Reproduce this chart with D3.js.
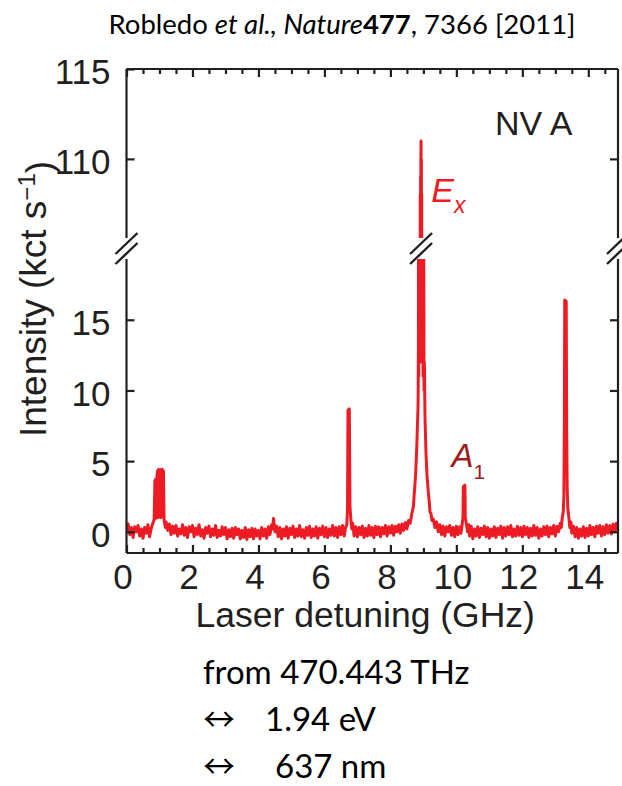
<!DOCTYPE html>
<html>
<head>
<meta charset="utf-8">
<script src="https://cdn.jsdelivr.net/npm/d3@7"></script>
<style>
  body { margin: 0; background: #fff; }
  svg { display: block; }
  .axis text { font-family: "Liberation Sans", Arial, sans-serif; font-size: 35px; fill: #231f20; }
  .axis line { stroke: #231f20; stroke-width: 2.2; }
  .axis path.domain { display: none; }
  .frame { stroke: #231f20; stroke-width: 2.2; fill: none; }
  .note { font-family: Lato, "Open Sans", sans-serif; fill: #000; }
</style>
</head>
<body>
<div id="chart"></div>
<script>
// Excitation spectrum of NV A: [detuning GHz, intensity kct/s]
const spec0to4 = [
    [0.0, 0.1], [0.05, 0.55], [0.1, -0.2], [0.15, 0.3], [0.2, -0.4], [0.25, 0.35], [0.3, 0.0],
    [0.35, 0.45], [0.4, -0.3], [0.45, 0.2], [0.5, -0.45], [0.55, 0.3], [0.6, -0.1], [0.65, 0.5],
    [0.7, -0.35], [0.75, 0.25], [0.8, 0.6],
    [0.84, 0.9], [0.86, 3.6], [0.87, 0.9], [0.88, 3.7], [0.89, 1.0], [0.90, 3.6], [0.91, 3.8],
    [0.92, 1.2], [0.93, 4.1], [0.94, 4.3], [0.95, 1.0], [0.96, 4.2], [0.97, 4.4], [0.98, 1.1],
    [0.99, 4.0], [1.00, 4.3], [1.01, 1.2], [1.02, 4.2], [1.03, 4.4], [1.04, 1.0], [1.05, 4.1],
    [1.06, 4.3], [1.07, 1.1], [1.08, 4.2], [1.09, 4.4], [1.10, 1.3], [1.11, 4.2], [1.12, 4.3],
    [1.14, 0.8],
    [1.18, 0.3], [1.2, 0.7], [1.25, 0.1], [1.3, 0.55], [1.35, -0.2], [1.4, 0.4], [1.45, -0.1],
    [1.5, 0.45], [1.55, -0.3], [1.6, 0.2], [1.65, -0.15], [1.7, 0.5], [1.75, -0.25], [1.8, 0.3],
    [1.85, -0.4], [1.9, 0.35], [1.95, 0.0], [2.0, 0.45], [2.05, -0.35], [2.1, 0.25], [2.15, -0.2],
    [2.2, 0.5], [2.25, -0.3], [2.3, 0.15], [2.35, -0.45], [2.4, 0.3], [2.45, -0.1], [2.5, 0.4],
    [2.55, -0.35], [2.6, 0.2], [2.65, -0.25], [2.7, 0.45], [2.75, -0.4], [2.8, 0.1], [2.85, -0.3],
    [2.9, 0.35], [2.95, -0.2], [3.0, 0.3], [3.05, -0.5], [3.1, 0.15], [3.15, -0.35], [3.2, 0.25],
    [3.25, -0.45], [3.3, 0.3], [3.35, -0.2], [3.4, 0.2], [3.45, -0.5], [3.5, 0.1], [3.55, -0.4],
    [3.6, 0.3], [3.65, -0.55], [3.7, 0.15], [3.75, -0.35], [3.8, 0.25], [3.85, -0.5], [3.9, 0.2],
    [3.95, -0.3]
];
const spec4to8 = [
    [4.0, 0.1], [4.05, -0.5], [4.1, 0.3], [4.15, -0.3], [4.2, 0.2], [4.25, -0.45], [4.3, 0.35],
    [4.35, -0.2], [4.4, 0.5], [4.43, 0.2], [4.46, 0.95], [4.5, 0.0], [4.55, 0.4], [4.6, -0.35],
    [4.65, 0.3], [4.7, -0.5], [4.75, 0.2], [4.8, -0.3], [4.85, 0.35], [4.9, -0.45], [4.95, 0.25],
    [5.0, -0.2], [5.05, 0.4], [5.1, -0.4], [5.15, 0.2], [5.2, -0.3], [5.25, 0.45], [5.3, -0.35],
    [5.35, 0.15], [5.4, -0.45], [5.45, 0.3], [5.5, -0.25], [5.55, 0.4], [5.6, -0.4], [5.65, 0.2],
    [5.7, -0.3], [5.75, 0.35], [5.8, -0.45], [5.85, 0.25], [5.9, -0.2], [5.95, 0.4], [6.0, -0.35],
    [6.05, 0.3], [6.1, -0.4], [6.15, 0.2], [6.2, -0.25], [6.25, 0.45], [6.3, -0.3], [6.35, 0.3],
    [6.4, -0.4], [6.45, 0.35], [6.5, -0.2], [6.55, 0.45], [6.6, -0.3], [6.64, 0.3],
    [6.68, 0.5], [6.70, 1.6], [6.715, 8.6], [6.755, 8.7], [6.775, 1.8], [6.8, 0.9], [6.83, 0.2],
    [6.86, 0.6], [6.9, -0.3], [6.95, 0.35], [7.0, -0.35], [7.05, 0.3], [7.1, -0.2], [7.15, 0.4],
    [7.2, -0.4], [7.25, 0.25], [7.3, -0.3], [7.35, 0.45], [7.4, -0.25], [7.45, 0.3], [7.5, -0.4],
    [7.55, 0.4], [7.6, -0.2], [7.65, 0.35], [7.7, -0.35], [7.75, 0.3], [7.8, -0.15], [7.85, 0.45],
    [7.9, -0.3], [7.95, 0.35]
];
const spec8to12 = [
    [8.0, -0.1], [8.05, 0.45], [8.1, -0.25], [8.15, 0.4], [8.2, 0.0], [8.25, 0.5], [8.3, -0.1],
    [8.35, 0.55], [8.4, 0.1], [8.45, 0.65], [8.5, 0.2], [8.55, 0.8], [8.6, 0.6], [8.65, 1.3],
    [8.7, 1.8], [8.72, 2.6], [8.74, 3.2], [8.77, 4.3], [8.80, 6.0], [8.82, 7.5],
    [8.84, 9], [8.85, 13], [8.855, 24], [8.86, 11], [8.865, 30], [8.87, 12], [8.875, 38],
    [8.88, 13], [8.885, 50], [8.89, 12], [8.895, 70], [8.90, 13], [8.905, 108], [8.91, 14],
    [8.915, 109], [8.92, 13], [8.925, 110], [8.93, 111], [8.935, 15], [8.94, 110], [8.945, 13],
    [8.95, 108], [8.955, 14], [8.96, 75], [8.965, 12], [8.97, 55], [8.98, 12], [8.985, 40],
    [8.99, 11], [8.995, 30], [9.00, 11], [9.01, 22], [9.02, 10], [9.03, 12],
    [9.05, 8], [9.08, 5.5], [9.11, 4], [9.15, 2.8], [9.18, 2.1], [9.2, 1.4], [9.23, 1.3],
    [9.26, 0.8], [9.3, 0.9], [9.35, 0.3], [9.4, 0.7], [9.45, 0.0], [9.5, 0.5], [9.55, -0.2],
    [9.6, 0.4], [9.65, -0.3], [9.7, 0.35], [9.75, 0.0], [9.8, 0.45], [9.85, -0.25], [9.9, 0.3],
    [9.95, -0.35], [10.0, 0.4], [10.05, -0.2], [10.1, 0.35], [10.14, -0.1], [10.18, 0.6],
    [10.2, 1.0], [10.21, 3.2], [10.26, 3.3], [10.27, 1.0], [10.3, 0.6], [10.34, 0.0],
    [10.38, 0.5], [10.4, -0.3], [10.45, 0.4], [10.5, -0.5], [10.55, 0.2], [10.6, -0.3],
    [10.65, 0.35], [10.7, -0.4], [10.75, 0.25], [10.8, -0.2], [10.85, 0.4], [10.9, -0.35],
    [10.95, 0.3], [11.0, -0.45], [11.05, 0.2], [11.1, -0.3], [11.15, 0.35], [11.2, -0.4],
    [11.25, 0.25], [11.3, -0.2], [11.35, 0.4], [11.4, -0.45], [11.45, 0.3], [11.5, -0.3],
    [11.55, 0.35], [11.6, -0.2], [11.65, 0.45], [11.7, -0.35], [11.75, 0.2], [11.8, -0.3],
    [11.85, 0.4], [11.9, -0.25], [11.95, 0.3]
];
const spec12to15 = [
    [12.0, -0.35], [12.05, 0.4], [12.1, -0.2], [12.15, 0.3], [12.2, -0.4], [12.25, 0.25],
    [12.3, -0.3], [12.35, 0.45], [12.4, -0.25], [12.45, 0.3], [12.5, -0.45], [12.55, 0.2],
    [12.6, -0.3], [12.65, 0.35], [12.7, -0.2], [12.75, 0.4], [12.8, -0.35], [12.85, 0.3],
    [12.9, -0.15], [12.95, 0.45], [13.0, -0.3], [13.05, 0.4], [13.1, 0.0], [13.15, 0.6],
    [13.18, 0.3], [13.21, 1.0], [13.24, 1.4], [13.26, 2.6], [13.275, 8], [13.285, 16.4],
    [13.33, 16.3], [13.345, 7], [13.36, 3.0], [13.38, 1.6], [13.41, 1.0], [13.44, 0.3],
    [13.47, 0.7], [13.5, -0.1], [13.55, 0.4], [13.6, -0.35], [13.65, 0.3], [13.7, -0.45],
    [13.75, 0.2], [13.8, -0.3], [13.85, 0.35], [13.9, -0.4], [13.95, 0.25], [14.0, -0.3],
    [14.05, 0.45], [14.1, -0.2], [14.15, 0.3], [14.2, -0.35], [14.25, 0.4], [14.3, -0.1],
    [14.35, 0.45], [14.4, -0.3], [14.45, 0.35], [14.5, -0.2], [14.55, 0.5], [14.6, -0.1],
    [14.65, 0.45], [14.7, -0.15], [14.75, 0.55], [14.8, 0.0], [14.85, 0.6], [14.9, 0.1]
];

const xTicks = [0, 2, 4, 6, 8, 10, 12, 14];
const yTicksLow = [0, 5, 10, 15];
const yTicksHigh = [110, 115];
const exPeakGHz = 8.93;

const width = 622, height = 786;
const red = "#ed1c24";

const svg = d3.select("#chart").append("svg")
    .attr("width", width)
    .attr("height", height);

// scales: one x, two y panels with a break between them
const x = d3.scaleLinear().domain([0, 14.9]).range([126.5, 618]);
const yHigh = d3.scaleLinear().domain([105.6, 115]).range([238, 69]);
const yLow = d3.scaleLinear().domain([-1.5, 19.3]).range([553, 259]);

const spectrum = spec0to4.concat(spec4to8, spec8to12, spec12to15);

// clip paths for the two panels
const defs = svg.append("defs");
defs.append("clipPath").attr("id", "clipHigh").append("rect")
    .attr("x", x.range()[0]).attr("y", yHigh.range()[1])
    .attr("width", x.range()[1] - x.range()[0])
    .attr("height", yHigh.range()[0] - yHigh.range()[1]);
defs.append("clipPath").attr("id", "clipLow").append("rect")
    .attr("x", x.range()[0]).attr("y", yLow.range()[1])
    .attr("width", x.range()[1] - x.range()[0])
    .attr("height", yLow.range()[0] - yLow.range()[1]);

const lineHigh = d3.line().x(d => x(d[0])).y(d => yHigh(d[1]));
const lineLow = d3.line().x(d => x(d[0])).y(d => yLow(d[1]));

svg.append("path")
    .datum(spectrum)
    .attr("clip-path", "url(#clipHigh)")
    .attr("d", lineHigh)
    .attr("fill", "none")
    .attr("stroke", red)
    .attr("stroke-width", 3)
    .attr("stroke-linejoin", "round");

svg.append("path")
    .datum(spectrum)
    .attr("clip-path", "url(#clipLow)")
    .attr("d", lineLow)
    .attr("fill", "none")
    .attr("stroke", red)
    .attr("stroke-width", 3)
    .attr("stroke-linejoin", "round");

// frame
const x0 = x.range()[0], x1 = x.range()[1];
svg.append("line").attr("class", "frame")
    .attr("x1", x0).attr("x2", x1).attr("y1", yHigh.range()[1]).attr("y2", yHigh.range()[1]);
svg.append("line").attr("class", "frame")
    .attr("x1", x0).attr("x2", x1).attr("y1", yLow.range()[0]).attr("y2", yLow.range()[0]);
[x0, x1].forEach(xx => {
    svg.append("line").attr("class", "frame")
        .attr("x1", xx).attr("x2", xx).attr("y1", yHigh.range()[1]).attr("y2", yHigh.range()[0]);
    svg.append("line").attr("class", "frame")
        .attr("x1", xx).attr("x2", xx).attr("y1", yLow.range()[1]).attr("y2", yLow.range()[0]);
});

// x axes (ticks point inwards)
const minorX = d3.range(0, 14.9, 0.5).filter(v => v % 2 !== 0);

const bottomAxis = svg.append("g").attr("class", "axis")
    .attr("transform", `translate(0,${yLow.range()[0]})`)
    .call(d3.axisBottom(x).tickValues(xTicks).tickSize(-8).tickPadding(11).tickFormat(d3.format("d")));
bottomAxis.selectAll("text").attr("dx", -4);
svg.append("g").attr("class", "axis")
    .attr("transform", `translate(0,${yLow.range()[0]})`)
    .call(d3.axisBottom(x).tickValues(minorX).tickSize(-5).tickFormat(""));

svg.append("g").attr("class", "axis")
    .attr("transform", `translate(0,${yHigh.range()[1]})`)
    .call(d3.axisTop(x).tickValues(xTicks).tickSize(-8).tickFormat(""));
svg.append("g").attr("class", "axis")
    .attr("transform", `translate(0,${yHigh.range()[1]})`)
    .call(d3.axisTop(x).tickValues(minorX).tickSize(-5).tickFormat(""));

// y axes, left with labels, right ticks only
[[yLow, yTicksLow], [yHigh, yTicksHigh]].forEach(([sc, ticks]) => {
    svg.append("g").attr("class", "axis")
        .attr("transform", `translate(${x0},0)`)
        .call(d3.axisLeft(sc).tickValues(ticks).tickSize(-8).tickPadding(16))
        .selectAll("text").attr("dy", "0.42em");
    svg.append("g").attr("class", "axis")
        .attr("transform", `translate(${x1},0)`)
        .call(d3.axisRight(sc).tickValues(ticks.filter(t => t !== 115)).tickSize(-8).tickFormat(""));
});

// break marks
const breakY = (yHigh.range()[0] + yLow.range()[1]) / 2;
function drawBreak(cx) {
    [-5, 5].forEach(o => {
        svg.append("line")
            .attr("x1", cx - 11).attr("y1", breakY + o + 10.5)
            .attr("x2", cx + 11).attr("y2", breakY + o - 10.5)
            .attr("stroke", "#231f20")
            .attr("stroke-width", 2.4);
    });
}
drawBreak(x0);
drawBreak(x1);
drawBreak(x(exPeakGHz));

// axis titles
svg.append("text")
    .attr("x", (x0 + x1) / 2 - 7)
    .attr("y", 627)
    .attr("text-anchor", "middle")
    .style("font-family", "'Liberation Sans', Arial, sans-serif")
    .style("font-size", "35.5px")
    .style("fill", "#231f20")
    .text("Laser detuning (GHz)");

const yTitle = svg.append("text")
    .attr("transform", "translate(46,299) rotate(-90)")
    .attr("text-anchor", "middle")
    .style("font-family", "'Liberation Sans', Arial, sans-serif")
    .style("font-size", "37px")
    .style("fill", "#231f20");
yTitle.append("tspan").text("Intensity (kct s");
yTitle.append("tspan").attr("dy", "-0.45em").style("font-size", "24px").text("\u22121");
yTitle.append("tspan").attr("dy", "0.45em").text(")");

// panel annotations
svg.append("text")
    .attr("x", x(11.17)).attr("y", yHigh(111.33))
    .style("font-family", "'Liberation Sans', Arial, sans-serif")
    .style("font-size", "34px")
    .style("fill", "#231f20")
    .text("NV A");

const exLabel = svg.append("text")
    .attr("x", x(9.24)).attr("y", yHigh(107.6))
    .style("font-family", "'Liberation Sans', Arial, sans-serif")
    .style("font-size", "34px")
    .style("font-style", "italic")
    .style("fill", red);
exLabel.append("tspan").text("E");
exLabel.append("tspan").attr("dy", 11).style("font-size", "23px").text("x");

const a1Label = svg.append("text")
    .attr("x", x(9.85)).attr("y", yLow(4.6))
    .style("font-family", "'Liberation Sans', Arial, sans-serif")
    .style("font-size", "33px")
    .style("fill", "#9e1b20");
a1Label.append("tspan").style("font-style", "italic").text("A");
a1Label.append("tspan").attr("dy", 12).style("font-size", "21px").text("1");

// citation and conversion notes
const title = svg.append("text")
    .attr("class", "note")
    .attr("x", 342).attr("y", 34)
    .attr("text-anchor", "middle")
    .style("font-size", "27.5px");
title.append("tspan").text("Robledo ");
title.append("tspan").style("font-style", "italic").text("et al., Nature");
title.append("tspan").style("font-weight", "bold").text("477");
title.append("tspan").text(", 7366 [2011]");

const notes = [
    ["", "from 470.443 THz"],
    ["\u2194", "1.94 eV"],
    ["\u2194", "637 nm"]
];
notes.forEach((n, i) => {
    const t = svg.append("text")
        .attr("class", "note")
        .attr("x", 203).attr("y", 684 + i * 47)
        .style("font-size", "33px");
    if (n[0]) {
        t.append("tspan").style("font-family", "'Noto Sans CJK JP', 'DejaVu Sans', sans-serif")
            .style("font-size", "32px").text(n[0]);
        t.append("tspan").attr("x", i === 2 ? 275 : 265).text(n[1]);
    } else {
        t.text(n[1]);
    }
});
</script>
</body>
</html>
